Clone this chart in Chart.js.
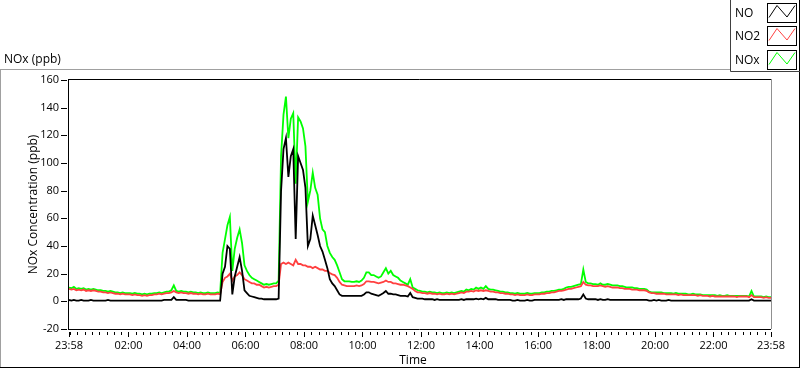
<!DOCTYPE html>
<html><head><meta charset="utf-8">
<script src="https://cdn.jsdelivr.net/npm/chart.js@4/dist/chart.umd.min.js"></script>
<style>html,body{margin:0;padding:0;background:#fff;overflow:hidden}</style>
</head><body>
<canvas id="c" width="800" height="369"></canvas>
<script>
// ---- data (5-minute samples starting 23:58) ----
const seriesNames = ['NO', 'NO2', 'NOx'];
const seriesColors = ['#000000', '#ff4040', '#00ff00'];
const stepMinutes = 5;
const startClock = '23:58';

const no = [
  1,0.5,1,0.5,0.5,1,0.5,0.5,0.5,1,0.5,0.5,
  0.5,0.5,0.5,0.5,1,0.5,0.5,0.5,0.5,0.5,0.5,0.5,
  0.5,0.5,0.5,0.5,0.5,0.5,0.5,0.5,0.5,0.5,0.5,0.5,
  0.5,0.5,0.5,1,1,1,1,3,1,1,1,1,
  1,0.5,0.5,0.5,0.5,0.5,0.5,0.5,0.5,0.5,0.5,0.5,
  0.5,0.5,0.5,20,25,40,38,5,18,25,32,22,
  8,6,4,3.5,3,2.5,2,2,1.5,1.5,1.5,1.5,
  1.5,1.5,2,80,110,118,90,105,110,45,105,100,
  95,82,40,45,62,55,48,40,36,30,24,16,
  13,11,8,5,4,4,4,4,4,4,4,4,
  4,5,6.5,6.5,5.5,5,4.5,4,5,6,7.5,5.5,
  5.5,5,5,4.5,4,4,4,3.5,6,3,2.5,2,
  2,2,1.5,1.5,1.5,1.5,1,1.5,1,1,1,1,
  1,1,1,1,1,1.5,1,1.5,1.5,1.5,1.5,2,
  1.5,2,1.5,2.5,1.5,1.5,1.5,1.5,1,1,1,1,
  1,1,0.5,0.5,1,0.5,0.5,0.5,1,0.5,0.5,1,
  1,1,1,1,1,1,1,1,1,1,1.5,1,
  1.5,1.5,1.5,1.5,1.5,1.5,2,5,2,1.5,1.5,1.5,
  1.5,1,1.5,1,1,1.5,1,1,1,1,1,1,
  1,1,1,1,1,1,1,1,1,1,0.5,0.5,
  1,0.5,1,0.5,0.5,0.5,1,0.5,0.5,0.5,0.5,0.5,
  0.5,0.5,0.5,0.5,0.5,0.5,0.5,0.5,0.5,0.5,0.5,0.5,
  0.5,0.5,0.5,0.5,0.5,0.5,0.5,0.5,0.5,0.5,0.5,0.5,
  0.5,0.5,0.5,0.5,1.5,0.5,0.5,0.5,0.5,0.5,0.5,0.5,
  0.5
];
const no2 = [
  9,8.5,9,8,8.5,8,8.5,7.5,8,7.5,8,7.5,
  7,7,6.5,6.5,6,6.5,6,5.5,5.5,5,5.5,5,
  5,5,4.5,5,4.5,4.5,4,4.5,4,4.5,4.5,5,
  5,5.5,5,5.5,6,6,6.5,7.5,6.5,6,6.5,6,
  6,5.5,6,5.5,5.5,5,5.5,5,5,5.5,5,5,
  5,5.5,5,14,17,18,20,15,18,19,21,19,
  16,15,14,13,13,12,12,11,10,10.5,10,10.5,
  11,11,12,27,28,27,28,27,26,30,27,27,
  26,26,25,25,24,25,24,23,23,22,22,20.5,
  19.5,19,17,14,12,11.5,11,11,11,11,11.5,11,
  11.5,12.5,14.5,14.5,14,14,13.5,13,13.5,14,15,14,
  14,13,13,12.5,12,12,11.5,11,10,9,7.5,6.5,
  6.5,6,6,5.5,6,5.5,5.5,5,5.5,5,5,5.5,
  5,5.5,5,5.5,6,6.5,6,7,7,7.5,7,8,
  7.5,8,7.5,8,7.5,7,7,6.5,6.5,6,6,5.5,
  5.5,5,5,4.5,5,4.5,4.5,4.5,5,4.5,4.5,5,
  5,5,5.5,5.5,6,6,6.5,6.5,7,7.5,7.5,8,
  8.5,9,9,9.5,10,10.5,11,14,12,11.5,11.5,11,
  11,11,11.5,11,10.5,11,10.5,10,10,10,9.5,9.5,
  9,9,9,8.5,8.5,8.5,8,8,8,7.5,6.5,6,
  6,5.5,5.5,5.5,5.5,5,5,5,5,5,4.5,5,
  4.5,4.5,4.5,4.5,4.5,4.5,4,4.5,4,4,4,3.5,
  4,3.5,3.5,3.5,3.5,3.5,3.5,3.5,3.5,3.5,3,3.5,
  3.5,3.5,3.5,3,4.5,3,3,3,3,2.5,3,2.5,
  2.5
];
const nox = [
  10,9.5,10.5,9,9.5,9,9.5,8.5,9,8.5,9,8.5,
  8,8,7.5,7.5,7,7.5,7,6.5,6.5,6,6.5,6,
  6,6,5.5,6,5.5,5.5,5,5.5,5,5.5,5.5,6,
  6,6.5,6,6.5,7,7,8,11.5,7.5,7,7.5,7,
  7,6.5,7,6.5,6.5,6,6.5,6,6,6.5,6,6,
  6,6.5,6,35,45,55,61,22,38,46,52,42,
  26,22,19,17,16,15,14,13,12,12.5,12,12.5,
  13,13,15,105,135,148,118,132,136,85,133,130,
  125,112,72,80,93,82,77,60,52,50,40,35,
  32,30,26,21,16,14.5,14.5,14.5,14,14,14.5,14,
  15,17,21,21,19,19,18,17,18,21,24,20,
  22,19,18,17,15,14,13,12,16,10,9,8,
  7.5,7,7,6.5,7,6.5,6.5,6,6.5,6,6,6.5,
  6,6.5,6,6.5,7,7.5,7,8.5,8,9,8.5,10,
  9,10,9,11,9,8.5,8.5,8,7.5,7,7,6.5,
  6.5,6,6,5.5,6,5.5,5.5,5.5,6,5.5,5.5,6,
  6,6,6.5,6.5,7,7,7.5,7.5,8,8.5,8.5,9,
  10,10.5,10.5,11,11.5,12,12.5,23,14,13,13,12.5,
  12.5,12,13,12,12,12.5,12,11.5,11.5,11.5,11,11,
  10.5,10,10,10,9.5,9.5,9,9,9,8.5,7,6.5,
  6.5,6.5,6.5,6.5,6,6,6,6,5.5,6,5.5,5.5,
  5.5,5.5,5,5,5.5,5,5,5,4.5,4.5,4.5,4.5,
  4.5,4.5,4,4.5,4,4,4.5,4,4,4,4,4,
  4,4,4,3.5,7.5,3.5,3.5,3.5,3.5,3,3.5,3,
  3
];

const xTickLabels = ['23:58','02:00','04:00','06:00','08:00','10:00','12:00','14:00','16:00','18:00','20:00','22:00','23:58'];
const yTickValues = [-20,0,20,40,60,80,100,120,140,160];

// ---- helpers ----
function clockToMin(s){const p=s.split(':');return (+p[0])*60+(+p[1]);}
const startMin = clockToMin(startClock);
function hoursSinceStart(label, idx){
  if (idx === xTickLabels.length - 1) return 24;
  return ((clockToMin(label) - startMin + 1440) % 1440) / 60;
}
const xTickHours = xTickLabels.map(hoursSinceStart);
const minorTickHours = [];
for (let m = 0; m < 1440; m += 15) {
  const h = ((m - startMin + 1440) % 1440) / 60;
  if (!xTickHours.some(t => Math.abs(t - h) < 0.01)) minorTickHours.push(h);
}
const sampleHours = no.map((_, i) => i * stepMinutes / 60);
const seriesData = [no, no2, nox];

const FONT = 'Open Sans';

const framePlugin = {
  id: 'frame',
  afterDraw(chart) {
    const ctx = chart.ctx, ca = chart.chartArea;
    const xs = chart.scales.x, ys = chart.scales.y;
    ctx.save();
    ctx.lineWidth = 1;
    // outer frame
    ctx.strokeStyle = '#a0a0a0';
    ctx.beginPath();
    ctx.moveTo(0, 69.5); ctx.lineTo(730, 69.5);
    ctx.moveTo(0.5, 69); ctx.lineTo(0.5, 368);
    ctx.stroke();
    ctx.strokeStyle = '#000';
    ctx.beginPath();
    ctx.moveTo(0, 367.5); ctx.lineTo(800, 367.5);
    ctx.moveTo(799.5, 0); ctx.lineTo(799.5, 368);
    ctx.stroke();
    // legend box
    ctx.strokeStyle = '#404040';
    ctx.beginPath();
    ctx.moveTo(730.5, 0); ctx.lineTo(730.5, 71.5);
    ctx.lineTo(800, 71.5);
    ctx.stroke();
    // plot area frame
    const L = Math.round(ca.left), R = Math.round(ca.right), T = Math.round(ca.top), B = Math.round(ca.bottom);
    ctx.strokeStyle = '#000';
    ctx.beginPath();
    ctx.moveTo(L - 0.5, T - 0.5); ctx.lineTo(R, T - 0.5);
    ctx.moveTo(L - 0.5, T - 1); ctx.lineTo(L - 0.5, B + 1);
    ctx.moveTo(L - 1, B + 0.5); ctx.lineTo(R, B + 0.5);
    ctx.stroke();
    ctx.strokeStyle = '#909090';
    ctx.beginPath();
    ctx.moveTo(R + 0.5, T - 1); ctx.lineTo(R + 0.5, B);
    ctx.stroke();
    // y tick marks
    ctx.strokeStyle = '#000';
    ctx.beginPath();
    yTickValues.forEach(v => {
      const py = Math.round(ys.getPixelForValue(v)) + 0.5;
      ctx.moveTo(L - 8, py); ctx.lineTo(L - 2, py);
    });
    ctx.stroke();
    // x tick marks
    ctx.beginPath();
    xTickHours.forEach(v => {
      const px = Math.round(xs.getPixelForValue(v)) + 0.5;
      ctx.moveTo(px, B + 3); ctx.lineTo(px, B + 8);
    });
    minorTickHours.forEach(v => {
      const px = Math.round(xs.getPixelForValue(v)) + 0.5;
      ctx.moveTo(px, B + 3); ctx.lineTo(px, B + 6);
    });
    ctx.stroke();
    // texts
    ctx.fillStyle = '#000';
    ctx.font = '12px "' + FONT + '"';
    ctx.textAlign = 'left';
    ctx.textBaseline = 'alphabetic';
    ctx.fillText('NOx (ppb)', 4, 63);
    ctx.textAlign = 'center';
    ctx.textBaseline = 'middle';
    ctx.fillText('Time', 413, 361);
    // legend entries
    chart.data.datasets.forEach((ds, i) => {
      const top = 3 + Math.round(i * 23.3);
      ctx.fillStyle = '#000';
      ctx.textAlign = 'left';
      ctx.textBaseline = 'alphabetic';
      ctx.fillText(ds.label, 735, top + 14);
      ctx.strokeStyle = '#000';
      ctx.lineWidth = 1;
      ctx.strokeRect(767.5, top + 0.5, 29, 19);
      ctx.strokeStyle = ds.borderColor;
      ctx.beginPath();
      ctx.moveTo(769, top + 14.5);
      ctx.lineTo(777, top + 2.5);
      ctx.lineTo(787, top + 14);
      ctx.lineTo(795, top + 2.5);
      ctx.stroke();
    });
    ctx.restore();
  }
};

new Chart(document.getElementById('c'), {
  type: 'line',
  data: {
    datasets: seriesNames.map((name, k) => ({
      label: name,
      data: seriesData[k].map((v, i) => ({x: sampleHours[i], y: v})),
      borderColor: seriesColors[k],
      backgroundColor: seriesColors[k],
      borderWidth: 1.8,
      pointRadius: 0,
      tension: 0,
      fill: false
    }))
  },
  options: {
    responsive: false,
    animation: false,
    devicePixelRatio: 1,
    layout: {padding: {top: 80, right: 29, bottom: 0, left: 0}, autoPadding: false},
    plugins: {legend: {display: false}, tooltip: {enabled: false}, title: {display: false}},
    scales: {
      x: {
        type: 'linear', min: 0, max: 24,
        afterBuildTicks(s) { s.ticks = xTickHours.map(v => ({value: v})); },
        afterFit(s) { s.height = 40; },
        grid: {display: false, drawTicks: false},
        border: {display: false},
        ticks: {
          autoSkip: false, maxRotation: 0, minRotation: 0, padding: 10, color: '#000',
          font: {family: FONT, size: 11},
          callback: (v, i) => xTickLabels[i]
        }
      },
      y: {
        type: 'linear', min: -20, max: 160,
        afterBuildTicks(s) { s.ticks = yTickValues.map(v => ({value: v})); },
        afterFit(s) { s.width = 69; },
        grid: {display: false, drawTicks: false},
        border: {display: false},
        ticks: {padding: 10, color: '#000', font: {family: FONT, size: 11}},
        title: {display: true, text: 'NOx Concentration (ppb)', color: '#000',
                font: {family: FONT, size: 12}, padding: {top: 26, bottom: 0}}
      }
    }
  },
  plugins: [framePlugin]
});
</script>
</body></html>
